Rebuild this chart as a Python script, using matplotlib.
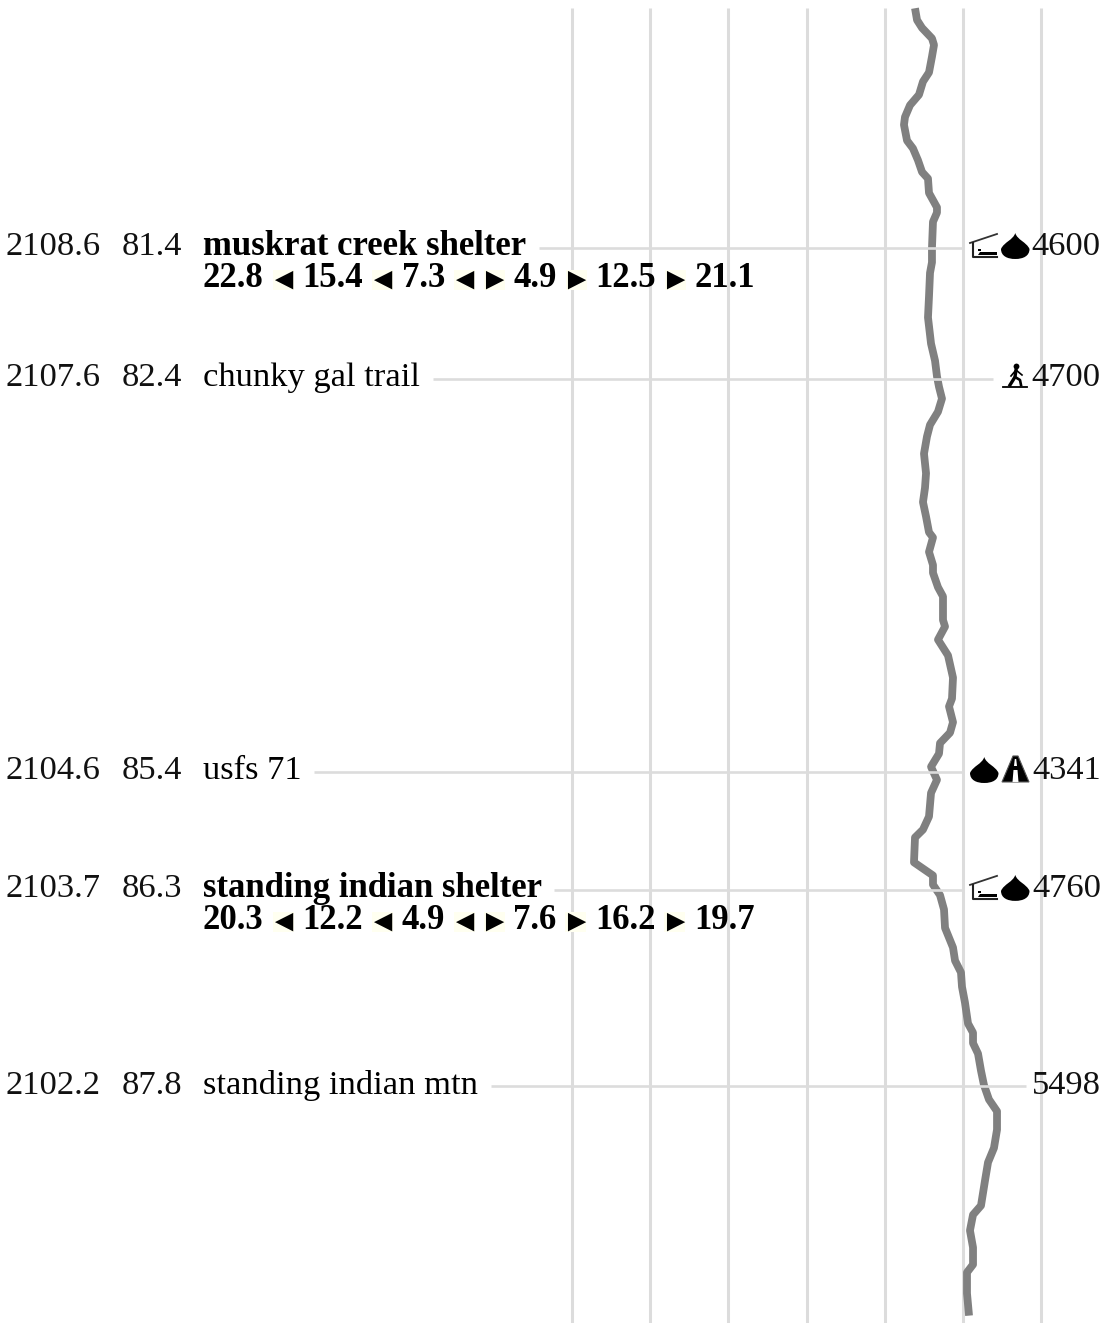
import matplotlib
matplotlib.use("Agg")
import matplotlib.pyplot as plt
from matplotlib.patches import PathPatch, Polygon, Rectangle
from matplotlib.path import Path

# trail profile, miles from start / elevation in feet
profile_mile = [79.57, 79.66, 79.72, 79.80, 79.85, 79.94, 80.06, 80.13, 80.23, 80.31, 80.40, 80.46,
                80.58, 80.64, 80.73, 80.82, 80.87, 80.98, 81.09, 81.13, 81.20, 81.40, 81.51, 81.59,
                81.77, 81.93, 82.13, 82.26, 82.38, 82.46, 82.55, 82.65, 82.75, 82.84, 82.97, 83.12,
                83.23, 83.34, 83.45, 83.57, 83.61, 83.72, 83.82, 83.88, 83.99, 84.06, 84.24, 84.29,
                84.39, 84.51, 84.68, 84.84, 84.90, 85.02, 85.10, 85.18, 85.26, 85.36, 85.46, 85.56,
                85.74, 85.84, 85.90, 86.09, 86.19, 86.26, 86.34, 86.45, 86.59, 86.74, 86.84, 86.93,
                87.04, 87.16, 87.32, 87.39, 87.47, 87.55, 87.68, 87.79, 87.90, 87.99, 88.13, 88.27,
                88.38, 88.52, 88.71, 88.78, 88.90, 89.03, 89.16, 89.22, 89.38, 89.55]
profile_elev = [4387, 4413, 4477, 4604, 4630, 4604, 4566, 4489, 4438, 4323, 4259, 4246,
                4285, 4361, 4425, 4477, 4553, 4566, 4668, 4668, 4617, 4604, 4604, 4579,
                4566, 4553, 4592, 4643, 4668, 4694, 4732, 4681, 4579, 4540, 4502, 4528,
                4515, 4489, 4528, 4566, 4617, 4566, 4617, 4617, 4681, 4745, 4745, 4771,
                4681, 4809, 4873, 4860, 4822, 4873, 4835, 4707, 4694, 4592, 4668, 4592,
                4566, 4489, 4387, 4374, 4617, 4617, 4707, 4758, 4771, 4873, 4899, 4975,
                4988, 5026, 5065, 5129, 5129, 5193, 5231, 5269, 5333, 5436, 5436, 5397,
                5321, 5282, 5231, 5129, 5090, 5129, 5129, 5052, 5052, 5078]

grid_elev = [0, 1000, 2000, 3000, 4000, 5000, 6000]

# waypoints
way_left = ["2108.6", "2107.6", "2104.6", "2103.7", "2102.2"]
way_mile = [81.4, 82.4, 85.4, 86.3, 87.8]
way_name = ["muskrat creek shelter", "chunky gal trail", "usfs 71", "standing indian shelter", "standing indian mtn"]
way_elev = ["4600", "4700", "4341", "4760", "5498"]
way_bold = [True, False, False, True, False]
way_icons = [["shelter", "drop"], ["walker"], ["drop", "road"], ["shelter", "drop"], []]
way_sub = ["22.8 \u25c4 15.4 \u25c4 7.3 \u25c4 \u25ba 4.9 \u25ba 12.5 \u25ba 21.1", "", "",
           "20.3 \u25c4 12.2 \u25c4 4.9 \u25c4 \u25ba 7.6 \u25ba 16.2 \u25ba 19.7", ""]
# where each leader line starts and stops on the page
line_from = [539, 433, 314, 554, 491]
line_to = [963, 993, 963, 963, 1026]

W, H = 1106, 1323
FS = 24.8
FS_BOLD = 25.0
FS_ARROW = 22
CELL = 21
GAP = 8.8
GRIDC = "#dcdcdc"
plt.rcParams["font.family"] = ["Liberation Serif", "DejaVu Sans"]


def px_y(mile):
    return (mile - 79.507) * 131


def draw_drop(ax, x, yc):
    w = 28.5
    top, bot = yc - 15, yc + 11
    cx = x + w / 2
    verts = [(cx, top), (cx + 2, top + 7), (x + w - 3, yc - 6), (x + w, yc + 1),
             (x + w, bot - 3), (cx + 8, bot), (cx, bot),
             (cx - 8, bot), (x, bot - 3), (x, yc + 1),
             (x + 3, yc - 6), (cx - 2, top + 7), (cx, top), (cx, top)]
    codes = [Path.MOVETO] + [Path.CURVE4] * 12 + [Path.CLOSEPOLY]
    ax.add_patch(PathPatch(Path(verts, codes), fc="black", ec="none"))


def draw_shelter(ax, x, yc):
    ax.plot([x, x + 27], [yc - 5, yc - 14], color="#333333", lw=1.3)
    ax.plot([x + 3, x + 3, x + 27], [yc - 5, yc + 9, yc + 9], color="#222222", lw=1.5)
    ax.add_patch(Polygon([(x + 10, yc + 4), (x + 27, yc + 4), (x + 27, yc + 7.5), (x + 8, yc + 7.5)],
                         fc="black", ec="none"))
    ax.add_patch(Polygon([(x + 8, yc + 1), (x + 11, yc + 1), (x + 11, yc + 3), (x + 8, yc + 3)], fc="black", ec="none"))


def draw_walker(ax, x, yc):
    ax.plot([x, x + 24], [yc + 8, yc + 8], color="black", lw=1.3)
    ax.plot(x + 13, yc - 13, "o", color="black", ms=4.2, mew=0)
    ax.plot([x + 13, x + 12, x + 7], [yc - 9, yc - 2, yc + 6], color="black", lw=2.4)
    ax.plot([x + 12, x + 17, x + 18], [yc - 2, yc + 1, yc + 6], color="black", lw=1.9)
    ax.plot([x + 8, x + 13, x + 19], [yc - 3, yc - 9, yc - 4], color="black", lw=1.2)


def draw_road(ax, x, yc):
    top, bot = yc - 16, yc + 10
    ax.add_patch(Polygon([(x + 11, top), (x + 16, top), (x + 27, bot), (x, bot)],
                         fc="black", ec="#555555", lw=0.8))
    ax.add_patch(Polygon([(x + 12.8, top + 3), (x + 14.2, top + 3), (x + 15, top + 10), (x + 12, top + 10)],
                         fc="white", ec="none"))
    ax.add_patch(Polygon([(x + 11.5, top + 14), (x + 15.5, top + 14), (x + 16.5, bot), (x + 10.5, bot)],
                         fc="white", ec="none"))


icon_draw = {"drop": draw_drop, "shelter": draw_shelter, "walker": draw_walker, "road": draw_road}
icon_x = {"shelter": [970, 1001], "walker": [1003], "drop": [970, 1001], "road": [1002]}

fig = plt.figure(figsize=(W / 100, H / 100), dpi=100, facecolor="white")

# page axes for text and icons, in pixels
page = fig.add_axes([0, 0, 1, 1], zorder=2)
page.set_xlim(0, W)
page.set_ylim(H, 0)
page.axis("off")
page.patch.set_alpha(0)

# elevation axes: 1000 ft = 78.2 px, 0 ft sits at x = 572
ax = fig.add_axes([0, 0, 1, 1], zorder=1)
ax.set_xlim(-572 * 12.79, (W - 572) * 12.79)
ax.set_ylim(79.507 + H / 131, 79.507)
ax.axis("off")

for g in grid_elev:
    ax.plot([g, g], [79.57, 79.507 + H / 131], color=GRIDC, lw=2.2, zorder=1, solid_capstyle="butt")
ax.plot(profile_elev, profile_mile, color="#808080", lw=5.6, zorder=2, solid_joinstyle="round", solid_capstyle="butt")

renderer = fig.canvas.get_renderer()
for i in range(len(way_mile)):
    y = px_y(way_mile[i])
    page.plot([line_from[i], line_to[i]], [y, y], color=GRIDC, lw=1.9, zorder=1, solid_capstyle="butt")
    base = y + 7.5
    page.text(5.5, base, way_left[i], fontsize=FS, va="baseline", color="#111111")
    page.text(122, base, "%.1f" % way_mile[i], fontsize=FS, va="baseline", color="#111111")
    page.text(203, base, way_name[i], fontsize=FS_BOLD if way_bold[i] else FS, va="baseline", color="black",
              fontweight="bold" if way_bold[i] else "normal")
    page.text(1101, base, way_elev[i], fontsize=FS, va="baseline", ha="right", color="#111111")

    # distance line, token by token: numbers keep their width, arrows get a fixed pale cell
    if way_sub[i]:
        x = 203.0
        for tok in way_sub[i].split(" "):
            if tok in ("\u25c4", "\u25ba"):
                page.add_patch(Rectangle((x, y + 22), CELL, 20, fc="#fffff0", ec="none", zorder=2))
                page.text(x + CELL / 2, y + 41, tok, fontsize=FS_ARROW, va="baseline", ha="center",
                          fontweight="bold", color="black", zorder=3)
                x += CELL + GAP
            else:
                t = page.text(x, y + 39, tok, fontsize=FS_BOLD, va="baseline", fontweight="bold",
                              color="black", zorder=3)
                x = t.get_window_extent(renderer).x1 + GAP

    for name in way_icons[i]:
        slot = icon_x[name]
        # a drop sits in the first slot only when it leads the row
        ix = slot[0] if way_icons[i][0] == name else slot[-1]
        icon_draw[name](page, ix, y)

fig.savefig("out.png", dpi=100)
